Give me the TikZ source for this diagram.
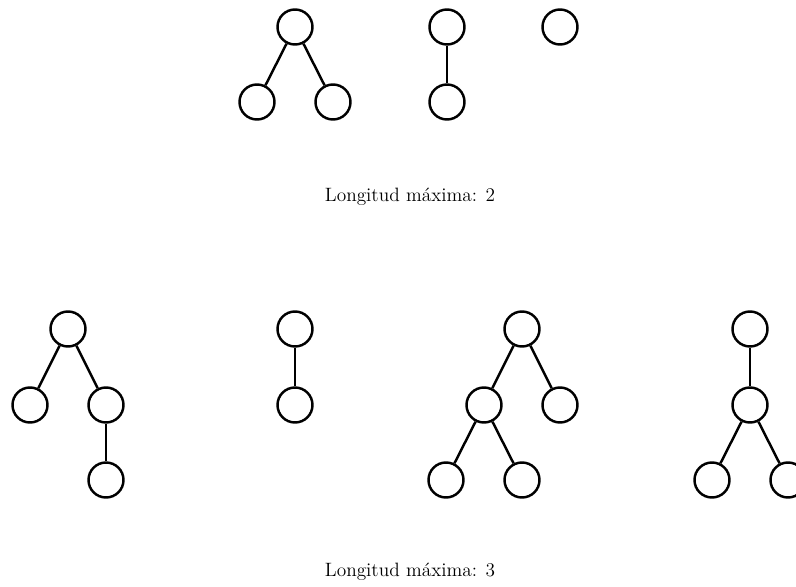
\documentclass[tikz,border=0pt]{standalone}
\begin{document}
\begin{tikzpicture}[x=0.02cm,y=-0.02cm,
  vtx/.style={circle,draw,line width=1.4pt,minimum size=0.70cm,inner sep=0pt},
  edge/.style={line width=1.4pt},
  caption/.style={font=\fontsize{11}{13}\selectfont}]
\useasboundingbox (0,0) rectangle (796,587);

% ---- length 2 ----
\node[vtx] (a1) at (295,27) {};
\node[vtx] (a2) at (257,102) {};
\node[vtx] (a3) at (333,102) {};
\draw[edge] (a1) -- (a2);
\draw[edge] (a1) -- (a3);

\node[vtx] (b1) at (447,27) {};
\node[vtx] (b2) at (447,102) {};
\draw[edge] (b1) -- (b2);

\node[vtx] (c1) at (560,27) {};

\node[caption] (l2) at (410,197) {Longitud máxima: 2};

% ---- length 3 ----
\node[vtx] (d1) at (68,329) {};
\node[vtx] (d2) at (30,405) {};
\node[vtx] (d3) at (106,405) {};
\node[vtx] (d4) at (106,480) {};
\draw[edge] (d1) -- (d2);
\draw[edge] (d1) -- (d3);
\draw[edge] (d3) -- (d4);

\node[vtx] (e1) at (295,329) {};
\node[vtx] (e2) at (295,405) {};
\draw[edge] (e1) -- (e2);

\node[vtx] (f1) at (522,329) {};
\node[vtx] (f2) at (484,405) {};
\node[vtx] (f3) at (560,405) {};
\node[vtx] (f4) at (446,480) {};
\node[vtx] (f5) at (522,480) {};
\draw[edge] (f1) -- (f2);
\draw[edge] (f1) -- (f3);
\draw[edge] (f2) -- (f4);
\draw[edge] (f2) -- (f5);

\node[vtx] (g1) at (750,329) {};
\node[vtx] (g2) at (750,405) {};
\node[vtx] (g3) at (712,480) {};
\node[vtx] (g4) at (788,480) {};
\draw[edge] (g1) -- (g2);
\draw[edge] (g2) -- (g3);
\draw[edge] (g2) -- (g4);

\node[caption] (l3) at (410,572) {Longitud máxima: 3};
\end{tikzpicture}
\end{document}
